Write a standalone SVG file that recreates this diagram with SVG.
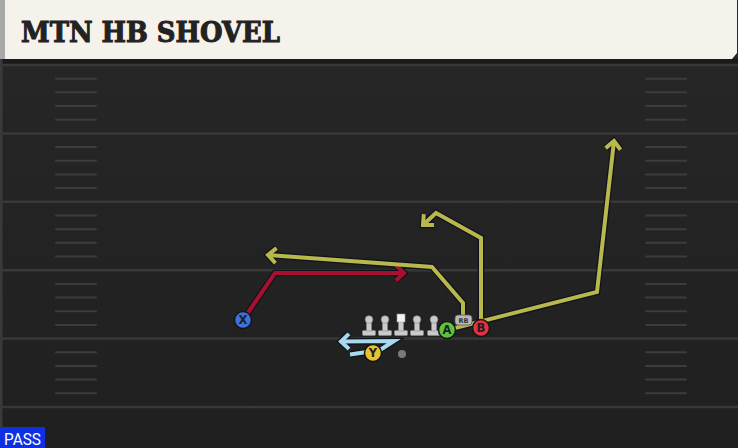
<svg xmlns="http://www.w3.org/2000/svg" width="738" height="448" viewBox="0 0 738 448">
<defs>
<style>
.yard{stroke:#383838;stroke-width:2.5}
.hash{stroke:#3c3c3c;stroke-width:2;stroke-linecap:round}
.ol{fill:none;stroke:#10131c;stroke-width:6.5;stroke-linejoin:miter;stroke-linecap:butt}
.rt{fill:none;stroke-width:4;stroke-linejoin:miter;stroke-linecap:butt}
.ylw{stroke:#b8b84c}
.red{stroke:#a8112e}
.blu{stroke:#a9d9ec}
.pc{stroke:#141414;stroke-width:1.5}
.lt{font-family:"DejaVu Sans",sans-serif;font-weight:700;font-size:11.5px;fill:#1e1e1e;text-anchor:middle}
.lm{fill:#cacaca;stroke:#8a8a8a;stroke-width:0.6}
</style>
<marker id="aO" markerUnits="userSpaceOnUse" markerWidth="30" markerHeight="30" viewBox="-15 -15 30 30" refX="0" refY="0" orient="auto" overflow="visible">
<path d="M-8,-7.5 L0,0 L-8,7.5" fill="none" stroke="#10131c" stroke-width="6.5" stroke-linejoin="miter"/>
</marker>
<marker id="aY" markerUnits="userSpaceOnUse" markerWidth="30" markerHeight="30" viewBox="-15 -15 30 30" refX="0" refY="0" orient="auto" overflow="visible">
<path d="M-8,-7.5 L0,0 L-8,7.5" fill="none" stroke="#b8b84c" stroke-width="4" stroke-linejoin="miter"/>
</marker>
<marker id="aR" markerUnits="userSpaceOnUse" markerWidth="30" markerHeight="30" viewBox="-15 -15 30 30" refX="0" refY="0" orient="auto" overflow="visible">
<path d="M-8,-7.5 L0,0 L-8,7.5" fill="none" stroke="#a8112e" stroke-width="4" stroke-linejoin="miter"/>
</marker>
<marker id="aB" markerUnits="userSpaceOnUse" markerWidth="30" markerHeight="30" viewBox="-15 -15 30 30" refX="0" refY="0" orient="auto" overflow="visible">
<path d="M-8,-7.5 L0,0 L-8,7.5" fill="none" stroke="#a9d9ec" stroke-width="4" stroke-linejoin="miter"/>
</marker>
<linearGradient id="fg" x1="0" y1="0" x2="0" y2="1">
<stop offset="0" stop-color="#272727"/>
<stop offset="1" stop-color="#202020"/>
</linearGradient>
<g id="lineman">
<rect x="-6.5" y="330.5" width="13" height="5" rx="1" class="lm"/>
<rect x="-2.5" y="321" width="5" height="10" class="lm"/>
<circle cx="0" cy="319.5" r="3.8" class="lm"/>
</g>
</defs>

<g id="field">
<rect x="0" y="0" width="738" height="448" fill="url(#fg)"/>
<rect x="0" y="59" width="738" height="5" fill="#1a1a1a"/>
<rect x="0" y="59" width="2.5" height="389" fill="#3a3a3a"/>
<line class="yard" x1="0" y1="65" x2="738" y2="65"/>
<line class="yard" x1="0" y1="133.4" x2="738" y2="133.4"/>
<line class="yard" x1="0" y1="201.8" x2="738" y2="201.8"/>
<line class="yard" x1="0" y1="270.2" x2="738" y2="270.2"/>
<line class="yard" x1="0" y1="338.6" x2="738" y2="338.6"/>
<line class="yard" x1="0" y1="407" x2="738" y2="407"/>
<g id="hashes">
<path class="hash" d="M56,78.7H96M56,92.3H96M56,106H96M56,119.7H96M56,147.1H96M56,160.8H96M56,174.4H96M56,188.1H96M56,215.5H96M56,229.2H96M56,242.8H96M56,256.5H96M56,283.9H96M56,297.6H96M56,311.2H96M56,324.9H96M56,352.3H96M56,366H96M56,379.6H96M56,393.3H96"/>
<path class="hash" d="M646,78.7H686M646,92.3H686M646,106H686M646,119.7H686M646,147.1H686M646,160.8H686M646,174.4H686M646,188.1H686M646,215.5H686M646,229.2H686M646,242.8H686M646,256.5H686M646,283.9H686M646,297.6H686M646,311.2H686M646,324.9H686M646,352.3H686M646,366H686M646,379.6H686M646,393.3H686"/>
</g>
</g>

<g id="title">
<rect x="0" y="0" width="6" height="59" fill="#a8a8a8"/>
<path d="M5,0 H737 V53 L732,59 H5 Z" fill="#f5f2eb"/>
<text x="21" y="42" font-family="'DejaVu Serif',serif" font-weight="700" font-size="27" fill="#222" stroke="#222" stroke-width="1" textLength="259" lengthAdjust="spacingAndGlyphs">MTN HB SHOVEL</text>
</g>

<g id="connectors">
<g id="outlines">
<polyline class="ol" points="243,320 275,273 404,273" marker-end="url(#aO)"/>
<polyline class="ol" points="463,318 463,303 432,267 268,255" marker-end="url(#aO)"/>
<polyline class="ol" points="481,328 481,238 436,213 423,225" marker-end="url(#aO)"/>
<polyline class="ol" points="447,330 597,292 614,141" marker-end="url(#aO)"/>
<polyline class="ol" points="350,354.5 380,350 394,341 341,341.5" marker-end="url(#aO)"/>
</g>
<g id="routes">
<polyline class="rt red" points="243,320 275,273 404,273" marker-end="url(#aR)"/>
<polyline class="rt ylw" points="463,318 463,303 432,267 268,255" marker-end="url(#aY)"/>
<polyline class="rt ylw" points="481,328 481,238 436,213 423,225" marker-end="url(#aY)"/>
<polyline class="rt ylw" points="447,330 597,292 614,141" marker-end="url(#aY)"/>
<polyline class="rt blu" points="350,354.5 380,350 394,341 341,341.5" marker-end="url(#aB)"/>
</g>
</g>

<g id="line">
<use href="#lineman" x="369"/>
<use href="#lineman" x="385"/>
<g id="center">
<rect x="394.5" y="330.5" width="13" height="5" rx="1" class="lm"/>
<rect x="398.5" y="321" width="5" height="10" class="lm"/>
<rect x="397" y="314" width="8" height="8" fill="#f4f4f4" stroke="#999" stroke-width="0.6"/>
</g>
<use href="#lineman" x="417"/>
<use href="#lineman" x="434"/>
</g>

<g id="ball"><circle cx="402" cy="354" r="4" fill="#7a7a7a"/></g>

<g id="player-rb">
<rect x="455" y="315" width="17" height="10" rx="3" fill="#b9b9b9" stroke="#555" stroke-width="0.8"/>
<text x="463.5" y="323" font-family="'DejaVu Sans',sans-serif" font-weight="700" font-size="6.5" fill="#333" text-anchor="middle">RB</text>
</g>

<g id="player-x">
<circle cx="243" cy="320" r="8.5" fill="#3e72d8" class="pc"/>
<text class="lt" x="243" y="324">X</text>
</g>
<g id="player-y">
<circle cx="373" cy="353" r="8.5" fill="#e8c12f" class="pc"/>
<text class="lt" x="373" y="357">Y</text>
</g>
<g id="player-a">
<circle cx="447" cy="330" r="8.5" fill="#5cc43c" class="pc"/>
<text class="lt" x="447" y="334">A</text>
</g>
<g id="player-b">
<circle cx="481" cy="328" r="8.5" fill="#e0323f" class="pc"/>
<text class="lt" x="481" y="332">B</text>
</g>

<g id="pass-tag">
<rect x="0" y="427" width="45" height="21" fill="#0f30e2"/>
<text x="4" y="445" font-family="Roboto,sans-serif" font-size="16.5" fill="#ffffff" textLength="37" lengthAdjust="spacingAndGlyphs">PASS</text>
</g>
</svg>
